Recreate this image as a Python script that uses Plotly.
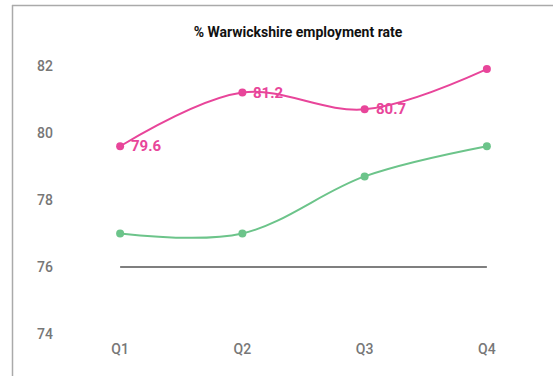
import plotly.graph_objects as go

quarters = ["Q1", "Q2", "Q3", "Q4"]
warwickshire = [79.6, 81.2, 80.7, 81.9]
comparison = [77.0, 77.0, 78.7, 79.6]
baseline = [76.0, 76.0, 76.0, 76.0]
warwickshire_labels = ["79.6", "81.2", "80.7", ""]
y_ticks = [74, 76, 78, 80, 82]

W, H = 553, 376
ML, MR, MT, MB = 59, 5, 49, 42
PINK = "#e8459a"
GREEN = "#6cc48a"

x = list(range(len(quarters)))

fig = go.Figure()
fig.add_trace(go.Scatter(
    x=x, y=baseline, mode="lines",
    line=dict(color="#555555", width=1.6),
    hoverinfo="skip",
))
fig.add_trace(go.Scatter(
    x=x, y=comparison, mode="lines+markers",
    line=dict(color=GREEN, width=2, shape="spline", smoothing=1),
    marker=dict(size=8, color=GREEN),
))
fig.add_trace(go.Scatter(
    x=x, y=warwickshire, mode="lines+markers",
    line=dict(color=PINK, width=2, shape="spline", smoothing=1),
    marker=dict(size=8, color=PINK),
))

# value labels to the right of the Warwickshire points
for xi, yi, lab in zip(x, warwickshire, warwickshire_labels):
    if lab:
        fig.add_annotation(x=xi, y=yi, text=f"<b>{lab}</b>", showarrow=False,
                           xanchor="left", yanchor="middle", xshift=9,
                           font=dict(family="Roboto", size=15, color=PINK))

pw = W - ML - MR
ph = H - MT - MB
def px_x(v):
    return (v - ML) / pw
def px_y(v):
    return (H - MB - v) / ph

# outer frame (top and left edges)
fig.add_shape(type="line", xref="paper", yref="paper",
              x0=px_x(12), x1=px_x(560), y0=px_y(5.5), y1=px_y(5.5),
              line=dict(color="#aaaaaa", width=1.5))
fig.add_shape(type="line", xref="paper", yref="paper",
              x0=px_x(12.5), x1=px_x(12.5), y0=px_y(5), y1=px_y(380),
              line=dict(color="#aaaaaa", width=1.5))

fig.update_layout(
    width=W, height=H,
    margin=dict(l=ML, r=MR, t=MT, b=MB),
    paper_bgcolor="white", plot_bgcolor="white",
    showlegend=False,
    font=dict(family="Roboto", color="#777777"),
    title=dict(text="<b>% Warwickshire employment rate</b>",
               x=298 / W, xanchor="center", y=1 - 32 / H, yanchor="middle",
               font=dict(family="Roboto", size=14, color="#111111")),
    xaxis=dict(range=[-0.5, 3.5], tickvals=x, ticktext=quarters,
               showgrid=False, zeroline=False, showline=False, ticks="",
               tickfont=dict(size=14, color="#777777", weight=500),
               ticklabelstandoff=5),
    yaxis=dict(range=[74, 82.5], tickvals=y_ticks,
               showgrid=False, zeroline=False, showline=False, ticks="",
               tickfont=dict(size=14, color="#777777", weight=500),
               ticklabelstandoff=5),
)

fig.write_html("out.html")
